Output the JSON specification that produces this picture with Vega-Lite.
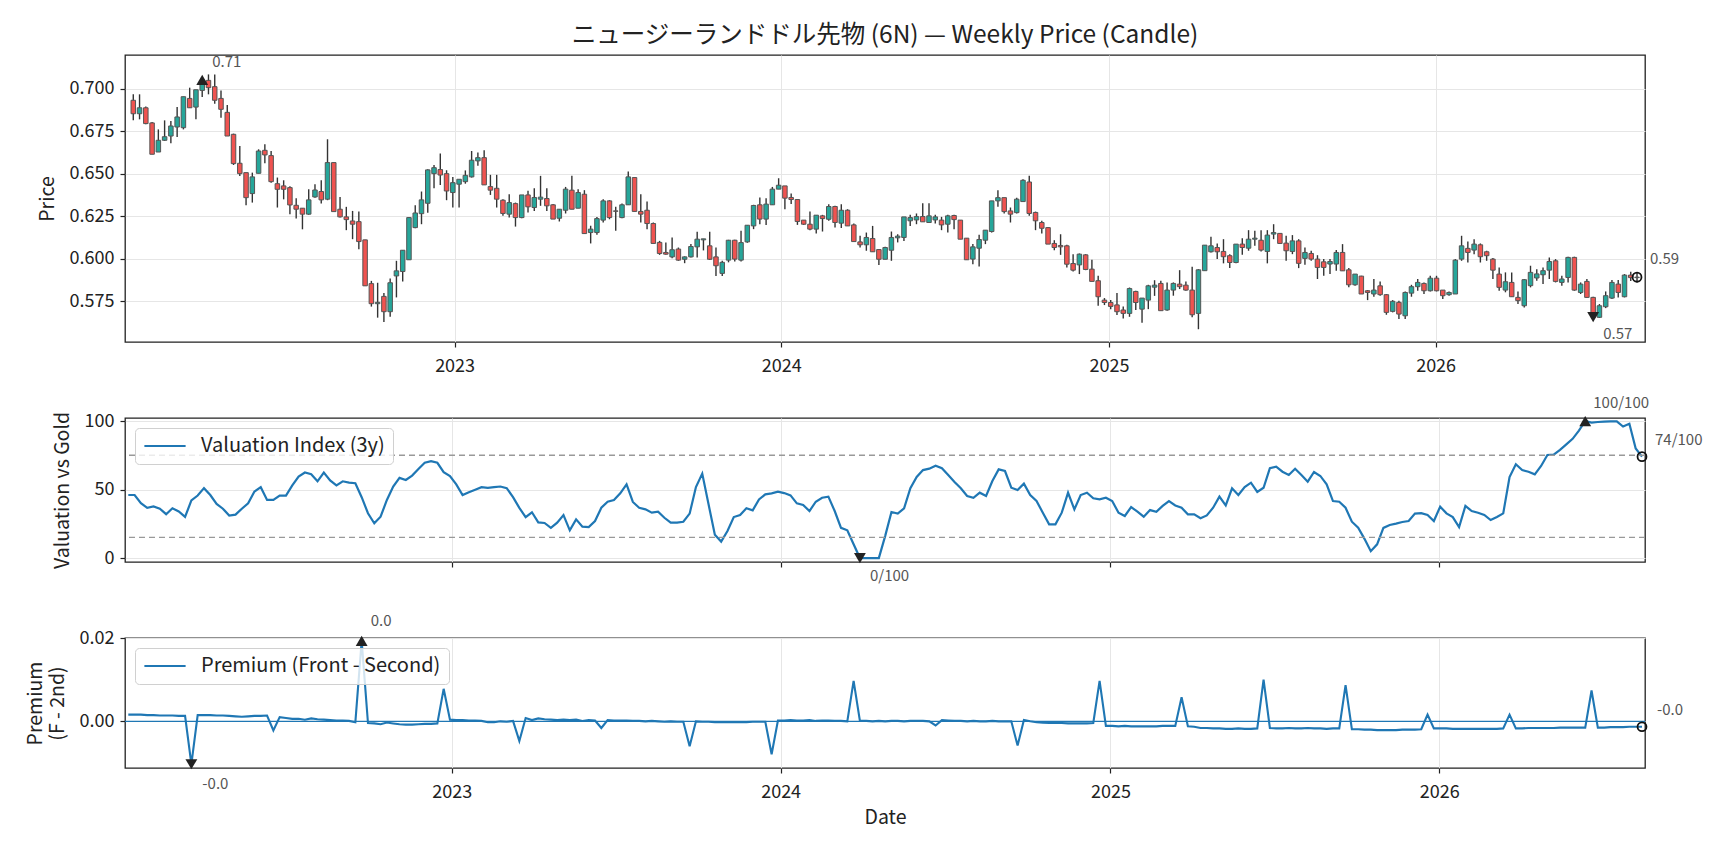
{
  "$schema": "https://vega.github.io/schema/vega-lite/v6.json",
  "title": {"text": "ニュージーランドドル先物 (6N) — Weekly Price (Candle)", "fontSize": 24.5, "fontWeight": "normal", "color": "#222222", "anchor": "middle", "frame": "group", "offset": 6},
  "padding": {"left": 24, "top": 22, "right": 10, "bottom": 10},
  "spacing": 76,
  "bounds": "flush",
  "resolve": {"scale": {"color": "independent"}, "legend": {"color": "independent"}},
  "datasets": {
    "w": [
      {"d":"2022-01-07","o":0.6932,"h":0.6967,"l":0.6815,"c":0.6853,"v":46,"p":0.0016},
      {"d":"2022-01-14","o":0.6853,"h":0.6967,"l":0.6820,"c":0.6888,"v":46,"p":0.0016},
      {"d":"2022-01-21","o":0.6888,"h":0.6896,"l":0.6791,"c":0.6795,"v":40,"p":0.0016},
      {"d":"2022-01-28","o":0.6799,"h":0.6804,"l":0.6615,"c":0.6615,"v":36.6,"p":0.0015},
      {"d":"2022-02-04","o":0.6628,"h":0.6761,"l":0.6628,"c":0.6697,"v":37.6,"p":0.0015},
      {"d":"2022-02-11","o":0.6697,"h":0.6814,"l":0.6693,"c":0.6718,"v":36,"p":0.0014},
      {"d":"2022-02-18","o":0.6722,"h":0.6810,"l":0.6680,"c":0.6781,"v":32,"p":0.0014},
      {"d":"2022-02-25","o":0.6775,"h":0.6892,"l":0.6716,"c":0.6834,"v":36.3,"p":0.0014},
      {"d":"2022-03-04","o":0.6771,"h":0.6953,"l":0.6761,"c":0.6953,"v":34,"p":0.0013},
      {"d":"2022-03-11","o":0.6943,"h":0.7006,"l":0.6888,"c":0.6888,"v":30,"p":0.0013},
      {"d":"2022-03-18","o":0.6892,"h":0.6994,"l":0.6820,"c":0.6994,"v":42,"p":-0.0103},
      {"d":"2022-03-25","o":0.6990,"h":0.7060,"l":0.6951,"c":0.7052,"v":45.6,"p":0.0015},
      {"d":"2022-04-01","o":0.7049,"h":0.7084,"l":0.6967,"c":0.7006,"v":51,"p":0.0015},
      {"d":"2022-04-08","o":0.7012,"h":0.7084,"l":0.6912,"c":0.6932,"v":46,"p":0.0015},
      {"d":"2022-04-15","o":0.6943,"h":0.6990,"l":0.6830,"c":0.6879,"v":39.5,"p":0.0014},
      {"d":"2022-04-22","o":0.6861,"h":0.6904,"l":0.6722,"c":0.6722,"v":36,"p":0.0014},
      {"d":"2022-04-29","o":0.6732,"h":0.6736,"l":0.6552,"c":0.6560,"v":31,"p":0.0013},
      {"d":"2022-05-06","o":0.6562,"h":0.6664,"l":0.6487,"c":0.6501,"v":31.7,"p":0.0012},
      {"d":"2022-05-13","o":0.6507,"h":0.6507,"l":0.6315,"c":0.6360,"v":36,"p":0.0011},
      {"d":"2022-05-20","o":0.6384,"h":0.6507,"l":0.6331,"c":0.6482,"v":40,"p":0.0012},
      {"d":"2022-05-27","o":0.6503,"h":0.6644,"l":0.6503,"c":0.6634,"v":48.5,"p":0.0013},
      {"d":"2022-06-03","o":0.6638,"h":0.6673,"l":0.6562,"c":0.6611,"v":51.7,"p":0.0013},
      {"d":"2022-06-10","o":0.6607,"h":0.6634,"l":0.6448,"c":0.6454,"v":42.4,"p":0.0014},
      {"d":"2022-06-17","o":0.6442,"h":0.6478,"l":0.6302,"c":0.6409,"v":42.4,"p":-0.0022},
      {"d":"2022-06-24","o":0.6429,"h":0.6462,"l":0.6350,"c":0.6409,"v":45.6,"p":0.0010},
      {"d":"2022-07-01","o":0.6419,"h":0.6427,"l":0.6263,"c":0.6317,"v":45.6,"p":0.0008},
      {"d":"2022-07-08","o":0.6315,"h":0.6356,"l":0.6237,"c":0.6292,"v":53,"p":0.0006},
      {"d":"2022-07-15","o":0.6298,"h":0.6298,"l":0.6174,"c":0.6263,"v":59.5,"p":0.0006},
      {"d":"2022-07-22","o":0.6263,"h":0.6409,"l":0.6259,"c":0.6347,"v":62.4,"p":0.0004},
      {"d":"2022-07-29","o":0.6364,"h":0.6439,"l":0.6360,"c":0.6405,"v":61.2,"p":0.0007},
      {"d":"2022-08-05","o":0.6396,"h":0.6462,"l":0.6325,"c":0.6347,"v":56,"p":0.0005},
      {"d":"2022-08-12","o":0.6351,"h":0.6703,"l":0.6345,"c":0.6566,"v":62.4,"p":0.0004},
      {"d":"2022-08-19","o":0.6566,"h":0.6566,"l":0.6278,"c":0.6278,"v":56.6,"p":0.0003},
      {"d":"2022-08-26","o":0.6292,"h":0.6364,"l":0.6243,"c":0.6247,"v":53,"p":0.0002},
      {"d":"2022-09-02","o":0.6247,"h":0.6306,"l":0.6169,"c":0.6231,"v":56,"p":0.0002},
      {"d":"2022-09-09","o":0.6223,"h":0.6282,"l":0.6116,"c":0.6204,"v":55,"p":0.0001},
      {"d":"2022-09-16","o":0.6219,"h":0.6278,"l":0.6057,"c":0.6102,"v":54.6,"p":-0.0002},
      {"d":"2022-09-23","o":0.6112,"h":0.6112,"l":0.5842,"c":0.5842,"v":44.4,"p":0.0193},
      {"d":"2022-09-30","o":0.5855,"h":0.5871,"l":0.5720,"c":0.5737,"v":32.7,"p":-0.0004},
      {"d":"2022-10-07","o":0.5737,"h":0.5860,"l":0.5655,"c":0.5745,"v":25.4,"p":-0.0005},
      {"d":"2022-10-14","o":0.5780,"h":0.5800,"l":0.5630,"c":0.5690,"v":30.2,"p":-0.0007},
      {"d":"2022-10-21","o":0.5690,"h":0.5885,"l":0.5660,"c":0.5860,"v":42.4,"p":-0.0003},
      {"d":"2022-10-28","o":0.5900,"h":0.5989,"l":0.5774,"c":0.5930,"v":52.2,"p":-0.0005},
      {"d":"2022-11-04","o":0.5926,"h":0.6051,"l":0.5867,"c":0.6051,"v":58.5,"p":-0.0007},
      {"d":"2022-11-11","o":0.5995,"h":0.6247,"l":0.5995,"c":0.6243,"v":57,"p":-0.0008},
      {"d":"2022-11-18","o":0.6184,"h":0.6315,"l":0.6180,"c":0.6270,"v":60.2,"p":-0.0008},
      {"d":"2022-11-25","o":0.6266,"h":0.6396,"l":0.6204,"c":0.6347,"v":65,"p":-0.0007},
      {"d":"2022-12-02","o":0.6327,"h":0.6527,"l":0.6272,"c":0.6523,"v":69.5,"p":-0.0006},
      {"d":"2022-12-09","o":0.6501,"h":0.6552,"l":0.6415,"c":0.6536,"v":70.7,"p":-0.0006},
      {"d":"2022-12-16","o":0.6525,"h":0.6620,"l":0.6434,"c":0.6493,"v":69.5,"p":-0.0005},
      {"d":"2022-12-23","o":0.6501,"h":0.6521,"l":0.6345,"c":0.6399,"v":62.7,"p":0.0078},
      {"d":"2022-12-30","o":0.6390,"h":0.6482,"l":0.6302,"c":0.6448,"v":59.8,"p":0.0004},
      {"d":"2023-01-06","o":0.6439,"h":0.6468,"l":0.6302,"c":0.6468,"v":53.7,"p":0.0003},
      {"d":"2023-01-13","o":0.6454,"h":0.6520,"l":0.6442,"c":0.6491,"v":46,"p":0.0003},
      {"d":"2023-01-20","o":0.6482,"h":0.6634,"l":0.6478,"c":0.6580,"v":48,"p":0.0002},
      {"d":"2023-01-27","o":0.6576,"h":0.6625,"l":0.6547,"c":0.6595,"v":49.8,"p":0.0002},
      {"d":"2023-02-03","o":0.6595,"h":0.6638,"l":0.6435,"c":0.6435,"v":51.7,"p":0.0001},
      {"d":"2023-02-10","o":0.6425,"h":0.6494,"l":0.6376,"c":0.6404,"v":51.2,"p":-0.0002},
      {"d":"2023-02-17","o":0.6415,"h":0.6494,"l":0.6302,"c":0.6351,"v":51.7,"p":-0.0002},
      {"d":"2023-02-24","o":0.6345,"h":0.6351,"l":0.6253,"c":0.6267,"v":52.2,"p":0},
      {"d":"2023-03-03","o":0.6263,"h":0.6380,"l":0.6243,"c":0.6331,"v":51,"p":-0.0001},
      {"d":"2023-03-10","o":0.6325,"h":0.6331,"l":0.6190,"c":0.6243,"v":44.4,"p":0.0001},
      {"d":"2023-03-17","o":0.6243,"h":0.6376,"l":0.6239,"c":0.6376,"v":36.6,"p":-0.0047},
      {"d":"2023-03-24","o":0.6376,"h":0.6400,"l":0.6273,"c":0.6306,"v":29.8,"p":0.0008},
      {"d":"2023-03-31","o":0.6302,"h":0.6415,"l":0.6282,"c":0.6361,"v":33.4,"p":0.0003},
      {"d":"2023-04-07","o":0.6351,"h":0.6488,"l":0.6312,"c":0.6363,"v":26,"p":0.0007},
      {"d":"2023-04-14","o":0.6355,"h":0.6415,"l":0.6282,"c":0.6312,"v":25.6,"p":0.0005},
      {"d":"2023-04-21","o":0.6318,"h":0.6322,"l":0.6234,"c":0.6234,"v":22,"p":0.0004},
      {"d":"2023-04-28","o":0.6239,"h":0.6292,"l":0.6220,"c":0.6292,"v":25.8,"p":0.0003},
      {"d":"2023-05-05","o":0.6286,"h":0.6423,"l":0.6267,"c":0.6410,"v":31.4,"p":0.0004},
      {"d":"2023-05-12","o":0.6404,"h":0.6488,"l":0.6292,"c":0.6292,"v":20.2,"p":0.0003},
      {"d":"2023-05-19","o":0.6298,"h":0.6410,"l":0.6298,"c":0.6390,"v":28.2,"p":0.0004},
      {"d":"2023-05-26","o":0.6380,"h":0.6404,"l":0.6149,"c":0.6149,"v":22.9,"p":0.0001},
      {"d":"2023-06-02","o":0.6155,"h":0.6195,"l":0.6091,"c":0.6175,"v":22.6,"p":0.0003},
      {"d":"2023-06-09","o":0.6155,"h":0.6247,"l":0.6142,"c":0.6237,"v":27,"p":0.0002},
      {"d":"2023-06-16","o":0.6228,"h":0.6351,"l":0.6214,"c":0.6341,"v":36.7,"p":-0.0016},
      {"d":"2023-06-23","o":0.6341,"h":0.6345,"l":0.6233,"c":0.6243,"v":41.1,"p":0.0003},
      {"d":"2023-06-30","o":0.6282,"h":0.6306,"l":0.6165,"c":0.6280,"v":42.3,"p":0.0002},
      {"d":"2023-07-07","o":0.6243,"h":0.6326,"l":0.6239,"c":0.6318,"v":47.2,"p":0.0002},
      {"d":"2023-07-14","o":0.6318,"h":0.6514,"l":0.6318,"c":0.6482,"v":53.8,"p":0.0002},
      {"d":"2023-07-21","o":0.6478,"h":0.6478,"l":0.6279,"c":0.6279,"v":40.9,"p":0.0001},
      {"d":"2023-07-28","o":0.6279,"h":0.6380,"l":0.6214,"c":0.6263,"v":36.7,"p":0.0001},
      {"d":"2023-08-04","o":0.6286,"h":0.6337,"l":0.6175,"c":0.6208,"v":35.5,"p":0},
      {"d":"2023-08-11","o":0.6208,"h":0.6214,"l":0.6091,"c":0.6091,"v":33.1,"p":0.0001},
      {"d":"2023-08-18","o":0.6097,"h":0.6106,"l":0.6024,"c":0.6032,"v":33.8,"p":0},
      {"d":"2023-08-25","o":0.6038,"h":0.6097,"l":0.6024,"c":0.6028,"v":29.4,"p":-0.0001},
      {"d":"2023-09-01","o":0.6012,"h":0.6126,"l":0.6004,"c":0.6054,"v":25.8,"p":0},
      {"d":"2023-09-08","o":0.6058,"h":0.6067,"l":0.5989,"c":0.5993,"v":25.8,"p":-0.0001},
      {"d":"2023-09-15","o":0.5998,"h":0.6015,"l":0.5975,"c":0.6012,"v":26.5,"p":-0.0001},
      {"d":"2023-09-22","o":0.6012,"h":0.6087,"l":0.6008,"c":0.6073,"v":32.4,"p":-0.0060},
      {"d":"2023-09-29","o":0.6071,"h":0.6160,"l":0.6008,"c":0.6116,"v":51.8,"p":0},
      {"d":"2023-10-06","o":0.6112,"h":0.6118,"l":0.6050,"c":0.6118,"v":61.6,"p":-0.0001},
      {"d":"2023-10-13","o":0.6077,"h":0.6160,"l":0.5993,"c":0.5998,"v":39.2,"p":-0.0001},
      {"d":"2023-10-20","o":0.6012,"h":0.6067,"l":0.5900,"c":0.5960,"v":17,"p":-0.0002},
      {"d":"2023-10-27","o":0.5915,"h":0.5990,"l":0.5900,"c":0.5980,"v":12,"p":-0.0002},
      {"d":"2023-11-03","o":0.5993,"h":0.6112,"l":0.5980,"c":0.6110,"v":19.7,"p":-0.0002},
      {"d":"2023-11-10","o":0.6110,"h":0.6112,"l":0.5985,"c":0.5999,"v":29.9,"p":-0.0002},
      {"d":"2023-11-17","o":0.5993,"h":0.6165,"l":0.5985,"c":0.6096,"v":31.4,"p":-0.0002},
      {"d":"2023-11-24","o":0.6100,"h":0.6198,"l":0.6095,"c":0.6198,"v":36.3,"p":-0.0002},
      {"d":"2023-12-01","o":0.6194,"h":0.6318,"l":0.6175,"c":0.6314,"v":34.8,"p":-0.0001},
      {"d":"2023-12-08","o":0.6318,"h":0.6361,"l":0.6204,"c":0.6234,"v":42.8,"p":-0.0001},
      {"d":"2023-12-15","o":0.6234,"h":0.6357,"l":0.6200,"c":0.6322,"v":46.5,"p":-0.0001},
      {"d":"2023-12-22","o":0.6318,"h":0.6423,"l":0.6318,"c":0.6410,"v":47.2,"p":-0.0079},
      {"d":"2023-12-29","o":0.6410,"h":0.6474,"l":0.6410,"c":0.6433,"v":48.4,"p":0.0002},
      {"d":"2024-01-05","o":0.6429,"h":0.6429,"l":0.6292,"c":0.6357,"v":47.4,"p":0.0002},
      {"d":"2024-01-12","o":0.6361,"h":0.6384,"l":0.6322,"c":0.6349,"v":45.7,"p":0.0003},
      {"d":"2024-01-19","o":0.6349,"h":0.6349,"l":0.6200,"c":0.6220,"v":39.9,"p":0.0002},
      {"d":"2024-01-26","o":0.6228,"h":0.6228,"l":0.6200,"c":0.6204,"v":38.7,"p":0.0002},
      {"d":"2024-02-02","o":0.6204,"h":0.6279,"l":0.6169,"c":0.6175,"v":34.3,"p":0.0003},
      {"d":"2024-02-09","o":0.6175,"h":0.6257,"l":0.6149,"c":0.6257,"v":41.1,"p":0.0001},
      {"d":"2024-02-16","o":0.6253,"h":0.6259,"l":0.6161,"c":0.6237,"v":44,"p":0.0002},
      {"d":"2024-02-23","o":0.6233,"h":0.6321,"l":0.6224,"c":0.6308,"v":44.8,"p":0.0002},
      {"d":"2024-03-01","o":0.6308,"h":0.6312,"l":0.6185,"c":0.6214,"v":34.3,"p":0.0001},
      {"d":"2024-03-08","o":0.6210,"h":0.6321,"l":0.6181,"c":0.6286,"v":22,"p":0.0001},
      {"d":"2024-03-15","o":0.6286,"h":0.6292,"l":0.6194,"c":0.6194,"v":20.2,"p":0},
      {"d":"2024-03-22","o":0.6200,"h":0.6208,"l":0.6102,"c":0.6102,"v":10,"p":0.0097},
      {"d":"2024-03-29","o":0.6100,"h":0.6136,"l":0.6067,"c":0.6083,"v":0,"p":0.0001},
      {"d":"2024-04-05","o":0.6083,"h":0.6155,"l":0.6048,"c":0.6126,"v":0,"p":0.0001},
      {"d":"2024-04-12","o":0.6120,"h":0.6194,"l":0.6042,"c":0.6042,"v":0,"p":0},
      {"d":"2024-04-19","o":0.6055,"h":0.6055,"l":0.5965,"c":0.5998,"v":0,"p":0.0001},
      {"d":"2024-04-26","o":0.5998,"h":0.6071,"l":0.5998,"c":0.6067,"v":16,"p":0},
      {"d":"2024-05-03","o":0.6051,"h":0.6161,"l":0.5989,"c":0.6126,"v":33.6,"p":0.0001},
      {"d":"2024-05-10","o":0.6124,"h":0.6145,"l":0.6097,"c":0.6134,"v":32.4,"p":0.0001},
      {"d":"2024-05-17","o":0.6126,"h":0.6247,"l":0.6106,"c":0.6247,"v":36.3,"p":0},
      {"d":"2024-05-24","o":0.6224,"h":0.6259,"l":0.6194,"c":0.6243,"v":50.9,"p":0.0001},
      {"d":"2024-05-31","o":0.6229,"h":0.6267,"l":0.6204,"c":0.6249,"v":59.2,"p":0.0001},
      {"d":"2024-06-07","o":0.6249,"h":0.6327,"l":0.6218,"c":0.6218,"v":64.2,"p":0.0001},
      {"d":"2024-06-14","o":0.6214,"h":0.6327,"l":0.6214,"c":0.6253,"v":65.2,"p":0},
      {"d":"2024-06-21","o":0.6229,"h":0.6259,"l":0.6208,"c":0.6247,"v":67.4,"p":-0.0010},
      {"d":"2024-06-28","o":0.6228,"h":0.6247,"l":0.6169,"c":0.6200,"v":65.5,"p":0.0003},
      {"d":"2024-07-05","o":0.6204,"h":0.6259,"l":0.6155,"c":0.6253,"v":60.6,"p":0.0002},
      {"d":"2024-07-12","o":0.6255,"h":0.6259,"l":0.6175,"c":0.6231,"v":55.5,"p":0.0001},
      {"d":"2024-07-19","o":0.6228,"h":0.6228,"l":0.6116,"c":0.6116,"v":50.9,"p":0.0001},
      {"d":"2024-07-26","o":0.6122,"h":0.6122,"l":0.5995,"c":0.5995,"v":45.3,"p":0},
      {"d":"2024-08-02","o":0.5999,"h":0.6087,"l":0.5969,"c":0.6071,"v":44,"p":0.0001},
      {"d":"2024-08-09","o":0.6063,"h":0.6142,"l":0.5955,"c":0.6114,"v":47.7,"p":0},
      {"d":"2024-08-16","o":0.6110,"h":0.6169,"l":0.6087,"c":0.6169,"v":45.3,"p":0},
      {"d":"2024-08-23","o":0.6161,"h":0.6341,"l":0.6155,"c":0.6341,"v":56.2,"p":0.0001},
      {"d":"2024-08-30","o":0.6341,"h":0.6404,"l":0.6306,"c":0.6360,"v":64.7,"p":0},
      {"d":"2024-09-06","o":0.6360,"h":0.6360,"l":0.6267,"c":0.6278,"v":63.5,"p":0},
      {"d":"2024-09-13","o":0.6282,"h":0.6302,"l":0.6214,"c":0.6263,"v":51.3,"p":0},
      {"d":"2024-09-20","o":0.6272,"h":0.6360,"l":0.6267,"c":0.6351,"v":49.6,"p":-0.0058},
      {"d":"2024-09-27","o":0.6337,"h":0.6468,"l":0.6337,"c":0.6462,"v":54.3,"p":0.0003},
      {"d":"2024-10-04","o":0.6452,"h":0.6488,"l":0.6253,"c":0.6267,"v":46,"p":0},
      {"d":"2024-10-11","o":0.6273,"h":0.6278,"l":0.6169,"c":0.6224,"v":41.6,"p":-0.0002},
      {"d":"2024-10-18","o":0.6214,"h":0.6224,"l":0.6149,"c":0.6180,"v":33.1,"p":-0.0003},
      {"d":"2024-10-25","o":0.6184,"h":0.6188,"l":0.6087,"c":0.6087,"v":24.6,"p":-0.0004},
      {"d":"2024-11-01","o":0.6091,"h":0.6110,"l":0.6051,"c":0.6067,"v":24.6,"p":-0.0004},
      {"d":"2024-11-08","o":0.6079,"h":0.6145,"l":0.6024,"c":0.6071,"v":33.1,"p":-0.0004},
      {"d":"2024-11-15","o":0.6077,"h":0.6083,"l":0.5950,"c":0.5969,"v":47.7,"p":-0.0005},
      {"d":"2024-11-22","o":0.5973,"h":0.6028,"l":0.5926,"c":0.5934,"v":35.5,"p":-0.0005},
      {"d":"2024-11-29","o":0.5965,"h":0.6032,"l":0.5911,"c":0.6028,"v":46,"p":-0.0005},
      {"d":"2024-12-06","o":0.6024,"h":0.6028,"l":0.5934,"c":0.5938,"v":47.7,"p":-0.0005},
      {"d":"2024-12-13","o":0.5940,"h":0.5995,"l":0.5868,"c":0.5868,"v":43.6,"p":-0.0004},
      {"d":"2024-12-20","o":0.5872,"h":0.5901,"l":0.5725,"c":0.5778,"v":42.8,"p":0.0097},
      {"d":"2024-12-27","o":0.5758,"h":0.5770,"l":0.5729,"c":0.5744,"v":44,"p":-0.0011},
      {"d":"2025-01-03","o":0.5744,"h":0.5758,"l":0.5705,"c":0.5721,"v":41.6,"p":-0.0011},
      {"d":"2025-01-10","o":0.5730,"h":0.5800,"l":0.5670,"c":0.5690,"v":33.1,"p":-0.0012},
      {"d":"2025-01-17","o":0.5700,"h":0.5720,"l":0.5650,"c":0.5680,"v":30.7,"p":-0.0011},
      {"d":"2025-01-24","o":0.5680,"h":0.5832,"l":0.5660,"c":0.5826,"v":37.2,"p":-0.0012},
      {"d":"2025-01-31","o":0.5809,"h":0.5813,"l":0.5700,"c":0.5744,"v":33.8,"p":-0.0012},
      {"d":"2025-02-07","o":0.5705,"h":0.5770,"l":0.5625,"c":0.5770,"v":30.2,"p":-0.0012},
      {"d":"2025-02-14","o":0.5758,"h":0.5848,"l":0.5705,"c":0.5842,"v":35,"p":-0.0012},
      {"d":"2025-02-21","o":0.5834,"h":0.5875,"l":0.5783,"c":0.5846,"v":33.8,"p":-0.0012},
      {"d":"2025-02-28","o":0.5856,"h":0.5872,"l":0.5696,"c":0.5696,"v":38,"p":-0.0011},
      {"d":"2025-03-07","o":0.5700,"h":0.5862,"l":0.5696,"c":0.5817,"v":41.6,"p":-0.0011},
      {"d":"2025-03-14","o":0.5817,"h":0.5862,"l":0.5784,"c":0.5856,"v":38.4,"p":-0.0011},
      {"d":"2025-03-21","o":0.5852,"h":0.5934,"l":0.5823,"c":0.5837,"v":36.7,"p":0.0058},
      {"d":"2025-03-28","o":0.5846,"h":0.5868,"l":0.5813,"c":0.5817,"v":31.9,"p":-0.0012},
      {"d":"2025-04-04","o":0.5817,"h":0.5954,"l":0.5657,"c":0.5672,"v":31.9,"p":-0.0013},
      {"d":"2025-04-11","o":0.5680,"h":0.5940,"l":0.5587,"c":0.5936,"v":29,"p":-0.0016},
      {"d":"2025-04-18","o":0.5931,"h":0.6081,"l":0.5931,"c":0.6081,"v":31.1,"p":-0.0016},
      {"d":"2025-04-25","o":0.6042,"h":0.6130,"l":0.6038,"c":0.6077,"v":36.7,"p":-0.0017},
      {"d":"2025-05-02","o":0.6067,"h":0.6091,"l":0.5999,"c":0.6042,"v":44.8,"p":-0.0017},
      {"d":"2025-05-09","o":0.6044,"h":0.6116,"l":0.5974,"c":0.6013,"v":38.4,"p":-0.0018},
      {"d":"2025-05-16","o":0.6019,"h":0.6028,"l":0.5946,"c":0.5979,"v":50.9,"p":-0.0018},
      {"d":"2025-05-23","o":0.5979,"h":0.6087,"l":0.5974,"c":0.6087,"v":46,"p":-0.0017},
      {"d":"2025-05-30","o":0.6087,"h":0.6122,"l":0.6024,"c":0.6067,"v":51.8,"p":-0.0018},
      {"d":"2025-06-06","o":0.6063,"h":0.6169,"l":0.6048,"c":0.6116,"v":55,"p":-0.0018},
      {"d":"2025-06-13","o":0.6116,"h":0.6165,"l":0.6077,"c":0.6122,"v":48.2,"p":-0.0017},
      {"d":"2025-06-20","o":0.6110,"h":0.6169,"l":0.6044,"c":0.6052,"v":51.3,"p":0.0100},
      {"d":"2025-06-27","o":0.6044,"h":0.6169,"l":0.5974,"c":0.6140,"v":65.5,"p":-0.0016},
      {"d":"2025-07-04","o":0.6146,"h":0.6204,"l":0.6116,"c":0.6155,"v":66.7,"p":-0.0017},
      {"d":"2025-07-11","o":0.6150,"h":0.6150,"l":0.6087,"c":0.6091,"v":63,"p":-0.0017},
      {"d":"2025-07-18","o":0.6093,"h":0.6136,"l":0.5989,"c":0.6048,"v":60.6,"p":-0.0016},
      {"d":"2025-07-25","o":0.6044,"h":0.6140,"l":0.6028,"c":0.6106,"v":65.2,"p":-0.0017},
      {"d":"2025-08-01","o":0.6106,"h":0.6116,"l":0.5946,"c":0.5974,"v":60.6,"p":-0.0017},
      {"d":"2025-08-08","o":0.6003,"h":0.6067,"l":0.5966,"c":0.6038,"v":55.7,"p":-0.0016},
      {"d":"2025-08-15","o":0.6032,"h":0.6048,"l":0.5989,"c":0.5999,"v":62.8,"p":-0.0017},
      {"d":"2025-08-22","o":0.5999,"h":0.6022,"l":0.5882,"c":0.5950,"v":59.9,"p":-0.0017},
      {"d":"2025-08-29","o":0.5983,"h":0.5999,"l":0.5901,"c":0.5950,"v":53.8,"p":-0.0018},
      {"d":"2025-09-05","o":0.5970,"h":0.5999,"l":0.5911,"c":0.5985,"v":41.6,"p":-0.0017},
      {"d":"2025-09-12","o":0.5970,"h":0.6052,"l":0.5930,"c":0.6038,"v":41.1,"p":-0.0017},
      {"d":"2025-09-19","o":0.6038,"h":0.6087,"l":0.5930,"c":0.5930,"v":36.7,"p":0.0087},
      {"d":"2025-09-26","o":0.5936,"h":0.5946,"l":0.5833,"c":0.5848,"v":26.5,"p":-0.0019},
      {"d":"2025-10-03","o":0.5848,"h":0.5911,"l":0.5842,"c":0.5911,"v":22.1,"p":-0.0019},
      {"d":"2025-10-10","o":0.5899,"h":0.5901,"l":0.5794,"c":0.5794,"v":14,"p":-0.0020},
      {"d":"2025-10-17","o":0.5813,"h":0.5817,"l":0.5758,"c":0.5803,"v":5,"p":-0.0020},
      {"d":"2025-10-24","o":0.5794,"h":0.5882,"l":0.5778,"c":0.5817,"v":10,"p":-0.0021},
      {"d":"2025-10-31","o":0.5842,"h":0.5868,"l":0.5784,"c":0.5790,"v":22,"p":-0.0021},
      {"d":"2025-11-07","o":0.5790,"h":0.5794,"l":0.5672,"c":0.5686,"v":24.1,"p":-0.0021},
      {"d":"2025-11-14","o":0.5692,"h":0.5758,"l":0.5686,"c":0.5751,"v":25.1,"p":-0.0021},
      {"d":"2025-11-21","o":0.5745,"h":0.5754,"l":0.5647,"c":0.5676,"v":26.3,"p":-0.0020},
      {"d":"2025-11-28","o":0.5666,"h":0.5809,"l":0.5647,"c":0.5803,"v":27,"p":-0.0020},
      {"d":"2025-12-05","o":0.5799,"h":0.5848,"l":0.5778,"c":0.5837,"v":32.4,"p":-0.0020},
      {"d":"2025-12-12","o":0.5837,"h":0.5882,"l":0.5813,"c":0.5862,"v":32.8,"p":-0.0019},
      {"d":"2025-12-19","o":0.5856,"h":0.5862,"l":0.5794,"c":0.5813,"v":31.4,"p":0.0016},
      {"d":"2025-12-26","o":0.5813,"h":0.5901,"l":0.5809,"c":0.5887,"v":27,"p":-0.0017},
      {"d":"2026-01-02","o":0.5887,"h":0.5901,"l":0.5809,"c":0.5813,"v":37.5,"p":-0.0017},
      {"d":"2026-01-09","o":0.5817,"h":0.5817,"l":0.5764,"c":0.5784,"v":32.6,"p":-0.0017},
      {"d":"2026-01-16","o":0.5790,"h":0.5809,"l":0.5784,"c":0.5803,"v":29.9,"p":-0.0018},
      {"d":"2026-01-23","o":0.5794,"h":0.5999,"l":0.5794,"c":0.5993,"v":22.6,"p":-0.0018},
      {"d":"2026-01-30","o":0.5999,"h":0.6136,"l":0.5989,"c":0.6077,"v":38,"p":-0.0018},
      {"d":"2026-02-06","o":0.6062,"h":0.6103,"l":0.5979,"c":0.6038,"v":34.3,"p":-0.0018},
      {"d":"2026-02-13","o":0.6052,"h":0.6116,"l":0.6028,"c":0.6087,"v":33.1,"p":-0.0018},
      {"d":"2026-02-20","o":0.6083,"h":0.6091,"l":0.5979,"c":0.6013,"v":31.4,"p":-0.0018},
      {"d":"2026-02-27","o":0.6042,"h":0.6048,"l":0.5989,"c":0.6019,"v":27.7,"p":-0.0018},
      {"d":"2026-03-06","o":0.5999,"h":0.6005,"l":0.5882,"c":0.5934,"v":29.9,"p":-0.0018},
      {"d":"2026-03-13","o":0.5911,"h":0.5950,"l":0.5813,"c":0.5833,"v":32.6,"p":-0.0017},
      {"d":"2026-03-20","o":0.5817,"h":0.5921,"l":0.5804,"c":0.5866,"v":59.1,"p":0.0016},
      {"d":"2026-03-27","o":0.5862,"h":0.5921,"l":0.5778,"c":0.5778,"v":68.4,"p":-0.0017},
      {"d":"2026-04-03","o":0.5774,"h":0.5809,"l":0.5735,"c":0.5755,"v":64.2,"p":-0.0017},
      {"d":"2026-04-10","o":0.5725,"h":0.5882,"l":0.5715,"c":0.5878,"v":63,"p":-0.0016},
      {"d":"2026-04-17","o":0.5843,"h":0.5960,"l":0.5833,"c":0.5921,"v":61.1,"p":-0.0016},
      {"d":"2026-04-24","o":0.5888,"h":0.5940,"l":0.5872,"c":0.5912,"v":67.2,"p":-0.0016},
      {"d":"2026-05-01","o":0.5907,"h":0.5950,"l":0.5852,"c":0.5931,"v":75.2,"p":-0.0016},
      {"d":"2026-05-08","o":0.5934,"h":0.6009,"l":0.5882,"c":0.5985,"v":75.5,"p":-0.0016},
      {"d":"2026-05-15","o":0.5989,"h":0.5999,"l":0.5862,"c":0.5868,"v":79,"p":-0.0015},
      {"d":"2026-05-22","o":0.5862,"h":0.5901,"l":0.5843,"c":0.5882,"v":83,"p":-0.0015},
      {"d":"2026-05-29","o":0.5891,"h":0.6013,"l":0.5862,"c":0.6009,"v":87,"p":-0.0015},
      {"d":"2026-06-05","o":0.6009,"h":0.6013,"l":0.5813,"c":0.5817,"v":93,"p":-0.0015},
      {"d":"2026-06-12","o":0.5803,"h":0.5862,"l":0.5794,"c":0.5852,"v":100,"p":-0.0015},
      {"d":"2026-06-19","o":0.5868,"h":0.5882,"l":0.5770,"c":0.5774,"v":98.8,"p":0.0074},
      {"d":"2026-06-26","o":0.5774,"h":0.5778,"l":0.5640,"c":0.5658,"v":99.3,"p":-0.0015},
      {"d":"2026-07-03","o":0.5657,"h":0.5735,"l":0.5653,"c":0.5725,"v":99.6,"p":-0.0015},
      {"d":"2026-07-10","o":0.5719,"h":0.5809,"l":0.5711,"c":0.5784,"v":99.7,"p":-0.0014},
      {"d":"2026-07-17","o":0.5770,"h":0.5876,"l":0.5764,"c":0.5862,"v":99.7,"p":-0.0014},
      {"d":"2026-07-24","o":0.5852,"h":0.5876,"l":0.5774,"c":0.5803,"v":96,"p":-0.0014},
      {"d":"2026-07-31","o":0.5778,"h":0.5911,"l":0.5774,"c":0.5905,"v":98,"p":-0.0013},
      {"d":"2026-08-07","o":0.5905,"h":0.5925,"l":0.5870,"c":0.5890,"v":80,"p":-0.0013},
      {"d":"2026-08-14","o":0.5890,"h":0.5920,"l":0.5860,"c":0.5893,"v":74,"p":-0.0013}
    ]
  },
  "data": {"name": "w"},
  "vconcat": [
    {
      "width": 1520,
      "height": 287,
      "layer": [
        {
          "mark": {"type": "rule", "color": "#333333", "strokeWidth": 1.4},
          "encoding": {
            "x": {"field": "d", "type": "temporal", "title": null,
              "scale": {"type": "utc", "domain": [{"year": 2022, "month": 1, "date": 3, "hours": 8, "utc": true}, {"year": 2026, "month": 8, "date": 17, "hours": 8, "utc": true}]},
              "axis": {"values": [{"year": 2023, "month": 1, "date": 1, "utc": true}, {"year": 2024, "month": 1, "date": 1, "utc": true}, {"year": 2025, "month": 1, "date": 1, "utc": true}, {"year": 2026, "month": 1, "date": 1, "utc": true}], "format": "%Y", "formatType": "utc", "title": null, "labelFlush": false}},
            "y": {"field": "l", "type": "quantitative", "title": "Price",
              "scale": {"domain": [0.5512, 0.7198], "nice": false, "zero": false},
              "axis": {"values": [0.575, 0.6, 0.625, 0.65, 0.675, 0.7], "format": ".3f", "title": "Price"}},
            "y2": {"field": "h"}
          }
        },
        {
          "mark": {"type": "bar", "width": 4.5, "stroke": "#555555", "strokeWidth": 1},
          "encoding": {
            "x": {"field": "d", "type": "temporal", "title": null, "scale": {"type": "utc", "domain": [{"year": 2022, "month": 1, "date": 3, "hours": 8, "utc": true}, {"year": 2026, "month": 8, "date": 17, "hours": 8, "utc": true}]}},
            "y": {"field": "o", "type": "quantitative", "title": "Price", "scale": {"domain": [0.5512, 0.7198], "nice": false, "zero": false}},
            "y2": {"field": "c"},
            "color": {"condition": {"test": "datum.c >= datum.o", "value": "#26a69a"}, "value": "#ef5350"}
          }
        },
        {
          "transform": [{"window": [{"op": "row_number", "as": "rn"}], "sort": [{"field": "c", "order": "descending"}]}, {"filter": "datum.rn == 1"}],
          "encoding": {
            "x": {"field": "d", "type": "temporal", "title": null, "scale": {"type": "utc", "domain": [{"year": 2022, "month": 1, "date": 3, "hours": 8, "utc": true}, {"year": 2026, "month": 8, "date": 17, "hours": 8, "utc": true}]}},
            "y": {"field": "c", "type": "quantitative", "title": "Price", "scale": {"domain": [0.5512, 0.7198], "nice": false, "zero": false}}
          },
          "layer": [
            {"mark": {"type": "point", "shape": "triangle-up", "filled": true, "color": "#222222", "size": 140, "opacity": 1}},
            {"mark": {"type": "text", "align": "left", "baseline": "middle", "dx": 10, "dy": -18, "fontSize": 15, "color": "#555555"},
             "encoding": {"text": {"field": "c", "type": "quantitative", "format": ".2f"}}}
          ]
        },
        {
          "transform": [{"window": [{"op": "row_number", "as": "rn"}], "sort": [{"field": "c", "order": "ascending"}]}, {"filter": "datum.rn == 1"}],
          "encoding": {
            "x": {"field": "d", "type": "temporal", "title": null, "scale": {"type": "utc", "domain": [{"year": 2022, "month": 1, "date": 3, "hours": 8, "utc": true}, {"year": 2026, "month": 8, "date": 17, "hours": 8, "utc": true}]}},
            "y": {"field": "c", "type": "quantitative", "title": "Price", "scale": {"domain": [0.5512, 0.7198], "nice": false, "zero": false}}
          },
          "layer": [
            {"mark": {"type": "point", "shape": "triangle-down", "filled": true, "color": "#222222", "size": 140, "opacity": 1}},
            {"mark": {"type": "text", "align": "left", "baseline": "middle", "dx": 10, "dy": 17, "fontSize": 15, "color": "#555555"},
             "encoding": {"text": {"field": "c", "type": "quantitative", "format": ".2f"}}}
          ]
        },
        {
          "transform": [{"window": [{"op": "row_number", "as": "rn"}], "sort": [{"field": "d", "order": "descending"}]}, {"filter": "datum.rn == 1"}],
          "encoding": {
            "x": {"field": "d", "type": "temporal", "title": null, "scale": {"type": "utc", "domain": [{"year": 2022, "month": 1, "date": 3, "hours": 8, "utc": true}, {"year": 2026, "month": 8, "date": 17, "hours": 8, "utc": true}]}},
            "y": {"field": "c", "type": "quantitative", "title": "Price", "scale": {"domain": [0.5512, 0.7198], "nice": false, "zero": false}}
          },
          "layer": [
            {"mark": {"type": "point", "shape": "circle", "filled": false, "stroke": "#111111", "strokeWidth": 1.8, "size": 80, "opacity": 1}},
            {"mark": {"type": "text", "align": "left", "baseline": "middle", "dx": 13, "dy": -18, "fontSize": 15, "color": "#555555"},
             "encoding": {"text": {"field": "c", "type": "quantitative", "format": ".2f"}}}
          ]
        }
      ]
    },
    {
      "width": 1520,
      "height": 144,
      "layer": [
        {
          "mark": {"type": "line", "strokeWidth": 2.2},
          "encoding": {
            "x": {"field": "d", "type": "temporal", "title": null,
              "scale": {"type": "utc", "domain": [{"year": 2022, "month": 1, "date": 3, "hours": 8, "utc": true}, {"year": 2026, "month": 8, "date": 17, "hours": 8, "utc": true}]},
              "axis": {"values": [{"year": 2023, "month": 1, "date": 1, "utc": true}, {"year": 2024, "month": 1, "date": 1, "utc": true}, {"year": 2025, "month": 1, "date": 1, "utc": true}, {"year": 2026, "month": 1, "date": 1, "utc": true}], "labels": false, "title": null}},
            "y": {"field": "v", "type": "quantitative", "title": "Valuation vs Gold",
              "scale": {"domain": [-2.9, 102.2], "nice": false, "zero": false},
              "axis": {"values": [0, 15, 50, 75, 100], "title": "Valuation vs Gold"}},
            "color": {"datum": "Valuation Index (3y)", "type": "nominal", "scale": {"range": ["#1f77b4"]},
              "legend": {"orient": "top-left", "offset": 10, "title": null, "symbolType": "stroke", "symbolStrokeWidth": 2.2, "symbolSize": 1700, "clipHeight": 20, "labelFontSize": 20, "labelLimit": 500, "labelColor": "#222222", "labelOffset": 14, "strokeColor": "#d0d0d0", "fillColor": "rgba(255,255,255,0.8)", "padding": 8, "cornerRadius": 4}}
          }
        },
        {
          "data": {"values": [{}]},
          "mark": {"type": "rule", "color": "#999999", "strokeWidth": 1.3, "strokeDash": [6, 4]},
          "encoding": {"y": {"datum": 75, "type": "quantitative", "scale": {"domain": [-2.9, 102.2], "nice": false, "zero": false}}}
        },
        {
          "data": {"values": [{}]},
          "mark": {"type": "rule", "color": "#999999", "strokeWidth": 1.3, "strokeDash": [6, 4]},
          "encoding": {"y": {"datum": 15, "type": "quantitative", "scale": {"domain": [-2.9, 102.2], "nice": false, "zero": false}}}
        },
        {
          "transform": [{"window": [{"op": "row_number", "as": "rn"}], "sort": [{"field": "v", "order": "descending"}, {"field": "d", "order": "ascending"}]}, {"filter": "datum.rn == 1"}, {"calculate": "format(datum.v, '.0f') + '/100'", "as": "lab"}],
          "encoding": {
            "x": {"field": "d", "type": "temporal", "title": null, "scale": {"type": "utc", "domain": [{"year": 2022, "month": 1, "date": 3, "hours": 8, "utc": true}, {"year": 2026, "month": 8, "date": 17, "hours": 8, "utc": true}]}},
            "y": {"field": "v", "type": "quantitative", "title": "Valuation vs Gold", "scale": {"domain": [-2.9, 102.2], "nice": false, "zero": false}}
          },
          "layer": [
            {"mark": {"type": "point", "shape": "triangle-up", "filled": true, "color": "#222222", "size": 140, "opacity": 1}},
            {"mark": {"type": "text", "align": "left", "baseline": "middle", "dx": 8, "dy": -18, "fontSize": 15, "color": "#555555"},
             "encoding": {"text": {"field": "lab", "type": "nominal"}}}
          ]
        },
        {
          "transform": [{"window": [{"op": "row_number", "as": "rn"}], "sort": [{"field": "v", "order": "ascending"}, {"field": "d", "order": "ascending"}]}, {"filter": "datum.rn == 1"}, {"calculate": "format(datum.v, '.0f') + '/100'", "as": "lab"}],
          "encoding": {
            "x": {"field": "d", "type": "temporal", "title": null, "scale": {"type": "utc", "domain": [{"year": 2022, "month": 1, "date": 3, "hours": 8, "utc": true}, {"year": 2026, "month": 8, "date": 17, "hours": 8, "utc": true}]}},
            "y": {"field": "v", "type": "quantitative", "title": "Valuation vs Gold", "scale": {"domain": [-2.9, 102.2], "nice": false, "zero": false}}
          },
          "layer": [
            {"mark": {"type": "point", "shape": "triangle-down", "filled": true, "color": "#222222", "size": 140, "opacity": 1}},
            {"mark": {"type": "text", "align": "left", "baseline": "middle", "dx": 10, "dy": 18, "fontSize": 15, "color": "#555555"},
             "encoding": {"text": {"field": "lab", "type": "nominal"}}}
          ]
        },
        {
          "transform": [{"window": [{"op": "row_number", "as": "rn"}], "sort": [{"field": "d", "order": "descending"}]}, {"filter": "datum.rn == 1"}, {"calculate": "format(datum.v, '.0f') + '/100'", "as": "lab"}],
          "encoding": {
            "x": {"field": "d", "type": "temporal", "title": null, "scale": {"type": "utc", "domain": [{"year": 2022, "month": 1, "date": 3, "hours": 8, "utc": true}, {"year": 2026, "month": 8, "date": 17, "hours": 8, "utc": true}]}},
            "y": {"field": "v", "type": "quantitative", "title": "Valuation vs Gold", "scale": {"domain": [-2.9, 102.2], "nice": false, "zero": false}}
          },
          "layer": [
            {"mark": {"type": "point", "shape": "circle", "filled": false, "stroke": "#111111", "strokeWidth": 1.8, "size": 80, "opacity": 1}},
            {"mark": {"type": "text", "align": "left", "baseline": "middle", "dx": 13, "dy": -17, "fontSize": 15, "color": "#555555"},
             "encoding": {"text": {"field": "lab", "type": "nominal"}}}
          ]
        }
      ]
    },
    {
      "width": 1520,
      "height": 130,
      "layer": [
        {
          "data": {"values": [{}]},
          "mark": {"type": "rule", "color": "#1f77b4", "strokeWidth": 1.2},
          "encoding": {"y": {"datum": 0, "type": "quantitative", "scale": {"domain": [-0.0112, 0.02], "nice": false, "zero": false}}}
        },
        {
          "mark": {"type": "line", "strokeWidth": 2.1},
          "encoding": {
            "x": {"field": "d", "type": "temporal", "title": "Date",
              "scale": {"type": "utc", "domain": [{"year": 2022, "month": 1, "date": 3, "hours": 8, "utc": true}, {"year": 2026, "month": 8, "date": 17, "hours": 8, "utc": true}]},
              "axis": {"values": [{"year": 2023, "month": 1, "date": 1, "utc": true}, {"year": 2024, "month": 1, "date": 1, "utc": true}, {"year": 2025, "month": 1, "date": 1, "utc": true}, {"year": 2026, "month": 1, "date": 1, "utc": true}], "format": "%Y", "formatType": "utc", "title": "Date", "labelFlush": false, "titlePadding": 7}},
            "y": {"field": "p", "type": "quantitative", "title": ["Premium", "(F - 2nd)"],
              "scale": {"domain": [-0.0112, 0.02], "nice": false, "zero": false},
              "axis": {"values": [0, 0.02], "format": ".2f", "title": ["Premium", "(F - 2nd)"]}},
            "color": {"datum": "Premium (Front - Second)", "type": "nominal", "scale": {"range": ["#1f77b4"]},
              "legend": {"orient": "top-left", "offset": 10, "title": null, "symbolType": "stroke", "symbolStrokeWidth": 2.2, "symbolSize": 1700, "clipHeight": 20, "labelFontSize": 20, "labelLimit": 500, "labelColor": "#222222", "labelOffset": 14, "strokeColor": "#d0d0d0", "fillColor": "rgba(255,255,255,0.8)", "padding": 8, "cornerRadius": 4}}
          }
        },
        {
          "transform": [{"window": [{"op": "row_number", "as": "rn"}], "sort": [{"field": "p", "order": "descending"}]}, {"filter": "datum.rn == 1"}, {"calculate": "(datum.p < 0 ? '-' : '') + format(abs(datum.p), '.1f')", "as": "lab"}],
          "encoding": {
            "x": {"field": "d", "type": "temporal", "title": "Date", "scale": {"type": "utc", "domain": [{"year": 2022, "month": 1, "date": 3, "hours": 8, "utc": true}, {"year": 2026, "month": 8, "date": 17, "hours": 8, "utc": true}]}},
            "y": {"field": "p", "type": "quantitative", "title": ["Premium", "(F - 2nd)"], "scale": {"domain": [-0.0112, 0.02], "nice": false, "zero": false}}
          },
          "layer": [
            {"mark": {"type": "point", "shape": "triangle-up", "filled": true, "color": "#222222", "size": 140, "opacity": 1}},
            {"mark": {"type": "text", "align": "left", "baseline": "middle", "dx": 9, "dy": -20, "fontSize": 15, "color": "#555555"},
             "encoding": {"text": {"field": "lab", "type": "nominal"}}}
          ]
        },
        {
          "transform": [{"window": [{"op": "row_number", "as": "rn"}], "sort": [{"field": "p", "order": "ascending"}]}, {"filter": "datum.rn == 1"}, {"calculate": "(datum.p < 0 ? '-' : '') + format(abs(datum.p), '.1f')", "as": "lab"}],
          "encoding": {
            "x": {"field": "d", "type": "temporal", "title": "Date", "scale": {"type": "utc", "domain": [{"year": 2022, "month": 1, "date": 3, "hours": 8, "utc": true}, {"year": 2026, "month": 8, "date": 17, "hours": 8, "utc": true}]}},
            "y": {"field": "p", "type": "quantitative", "title": ["Premium", "(F - 2nd)"], "scale": {"domain": [-0.0112, 0.02], "nice": false, "zero": false}}
          },
          "layer": [
            {"mark": {"type": "point", "shape": "triangle-down", "filled": true, "color": "#222222", "size": 140, "opacity": 1}},
            {"mark": {"type": "text", "align": "left", "baseline": "middle", "dx": 11, "dy": 20, "fontSize": 15, "color": "#555555"},
             "encoding": {"text": {"field": "lab", "type": "nominal"}}}
          ]
        },
        {
          "transform": [{"window": [{"op": "row_number", "as": "rn"}], "sort": [{"field": "d", "order": "descending"}]}, {"filter": "datum.rn == 1"}, {"calculate": "(datum.p < 0 ? '-' : '') + format(abs(datum.p), '.1f')", "as": "lab"}],
          "encoding": {
            "x": {"field": "d", "type": "temporal", "title": "Date", "scale": {"type": "utc", "domain": [{"year": 2022, "month": 1, "date": 3, "hours": 8, "utc": true}, {"year": 2026, "month": 8, "date": 17, "hours": 8, "utc": true}]}},
            "y": {"field": "p", "type": "quantitative", "title": ["Premium", "(F - 2nd)"], "scale": {"domain": [-0.0112, 0.02], "nice": false, "zero": false}}
          },
          "layer": [
            {"mark": {"type": "point", "shape": "circle", "filled": false, "stroke": "#111111", "strokeWidth": 1.8, "size": 80, "opacity": 1}},
            {"mark": {"type": "text", "align": "left", "baseline": "middle", "dx": 15, "dy": -17, "fontSize": 15, "color": "#555555"},
             "encoding": {"text": {"field": "lab", "type": "nominal"}}}
          ]
        }
      ]
    }
  ],
  "config": {
    "font": "Noto Sans CJK JP",
    "background": "#ffffff",
    "view": {"stroke": "#222222", "strokeWidth": 1.3},
    "axis": {
      "labelFontSize": 18,
      "labelColor": "#222222",
      "titleFontSize": 19.5,
      "titleFontWeight": "normal",
      "titleColor": "#222222",
      "tickColor": "#222222",
      "tickSize": 5,
      "tickWidth": 1.2,
      "domain": false,
      "grid": true,
      "gridColor": "#e6e6e6",
      "gridWidth": 1
    },
    "axisX": {"labelPadding": 10},
    "axisY": {"titlePadding": 12, "labelPadding": 6}
  }
}
